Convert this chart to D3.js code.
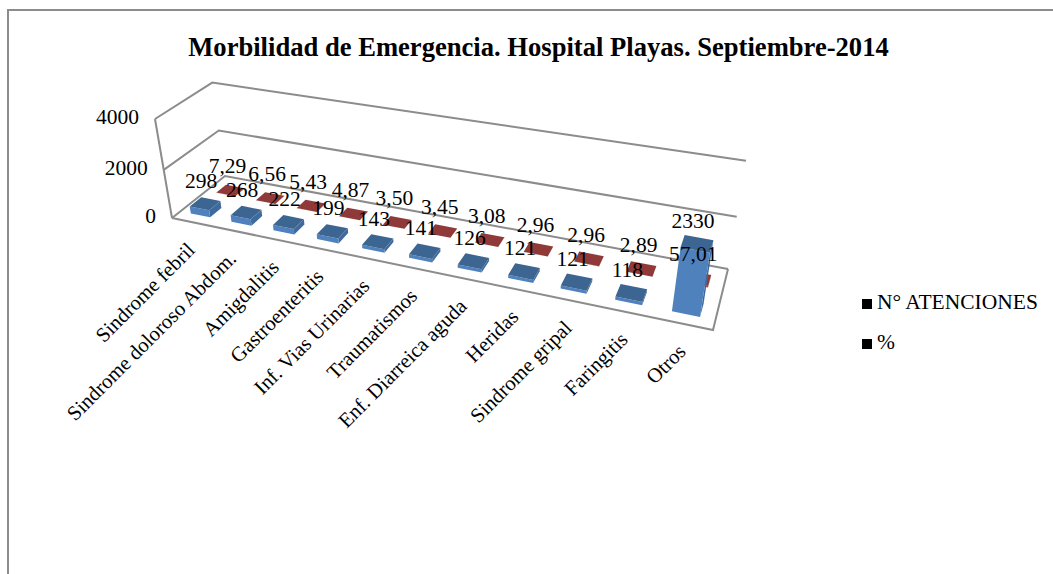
<!DOCTYPE html>
<html><head><meta charset="utf-8">
<script src="https://cdn.jsdelivr.net/npm/d3@7/dist/d3.min.js"></script>
<style>
html,body{margin:0;padding:0;background:#fff}
svg{display:block}
text{font-family:"Liberation Serif","Times New Roman",serif;fill:#000}
</style></head><body><svg id="chart" width="1053" height="574"></svg>
<script>
const categories = ["Sindrome febril","Sindrome doloroso Abdom.","Amigdalitis","Gastroenteritis","Inf. Vias Urinarias","Traumatismos","Enf. Diarreica aguda","Heridas","Sindrome gripal","Faringitis","Otros"];
const atenciones = [298,268,222,199,143,141,126,121,121,118,2330];
const porcentaje = [7.29,6.56,5.43,4.87,3.50,3.45,3.08,2.96,2.96,2.89,57.01];
const porcentajeLabels = ["7,29","6,56","5,43","4,87","3,50","3,45","3,08","2,96","2,96","2,89","57,01"];
const yTicks = [0,2000,4000];
const seriesNames = ["N° ATENCIONES","%"];

const svg = d3.select("#chart");

// Chart frame: only its top and left edges fall inside the page.
svg.append("path").attr("d","M8,574V10H1053").attr("fill","none").attr("stroke","#8c8c8c").attr("stroke-width",2);

svg.append("text").attr("x",538.5).attr("y",56).attr("text-anchor","middle")
  .attr("font-size",26.6).attr("font-weight","bold")
  .text("Morbilidad de Emergencia. Hospital Playas. Septiembre-2014");

// Perspective projection of the plot box: u along categories, d into the page, w up the value axis.
const floor = [[172,218],[713,330],[728,269],[225,176]];
function homography(q){
  const [[x0,y0],[x1,y1],[x2,y2],[x3,y3]] = q;
  const dx1=x1-x2, dx2=x3-x2, sx=x0-x1+x2-x3;
  const dy1=y1-y2, dy2=y3-y2, sy=y0-y1+y2-y3;
  const det=dx1*dy2-dx2*dy1;
  const g=(sx*dy2-dx2*sy)/det, h=(dx1*sy-sx*dy1)/det;
  return {a:x1-x0+g*x1,b:x3-x0+h*x3,c:x0,d:y1-y0+g*y1,e:y3-y0+h*y3,f:y0,g,h};
}
const H = homography(floor);
const D11 = H.g+H.h+1;
const iW = -(18*D11+17)/591;
const cW = 155*(1+iW)-172;
const fW = 119*(1+iW)-218;
function project(u,d,w){
  const den = H.g*u+H.h*d+iW*w+1;
  return [(H.a*u+H.b*d+cW*w+H.c)/den,(H.d*u+H.e*d+fW*w+H.f)/den];
}

const uScale = d3.scaleBand().domain(categories).range([0,1]).paddingInner(0.52).paddingOuter(0.26);
const wScale = d3.scaleLinear().domain([0,4000]).range([0,1]);
const line = d3.line();
const grid = "#8c8c8c";

// Back wall gridlines, side wall and floor outline.
const box = svg.append("g").attr("fill","none").attr("stroke",grid).attr("stroke-width",2);
yTicks.forEach(t=>{
  const w=wScale(t);
  box.append("path").attr("d",line([project(0,0,w),project(0,1,w),project(1,1,w)]));
});
box.append("path").attr("d",line([project(0,0,0),project(1,0,0),project(1,1,0)]));
box.append("path").attr("d",line([project(0,0,0),project(0,0,1)]));

// Value axis labels.
svg.append("g").selectAll("text").data(yTicks).join("text")
  .attr("font-size",21.5).attr("text-anchor","end")
  .attr("x",t=>project(0,0,wScale(t))[0]-16)
  .attr("y",t=>project(0,0,wScale(t))[1]+5)
  .text(t=>t);

// One 3D box: top, front and right faces.
function drawBar(g,cat,value,d0,d1,colors){
  const u0=uScale(cat), u1=uScale(cat)+uScale.bandwidth(), w=wScale(value);
  const face=(pts,fill)=>g.append("path").attr("d",line(pts)+"Z").attr("fill",fill);
  face([project(u1,d0,0),project(u1,d1,0),project(u1,d1,w),project(u1,d0,w)],colors.side);
  face([project(u0,d0,0),project(u1,d0,0),project(u1,d0,w),project(u0,d0,w)],colors.front);
  face([project(u0,d0,w),project(u1,d0,w),project(u1,d1,w),project(u0,d1,w)],colors.top);
}
const blue={front:"#4f81bd",side:"#3f6a9e",top:"#3c6591"};
const red={front:"#a8423f",side:"#8a3634",top:"#8f3a39"};
const redBand=[0.63,0.82], blueBand=[0.15,0.36];

const barsRed=svg.append("g"), barsBlue=svg.append("g");
categories.forEach((c,i)=>{
  drawBar(barsRed,c,porcentaje[i],redBand[0],redBand[1],red);
  drawBar(barsBlue,c,atenciones[i],blueBand[0],blueBand[1],blue);
});

// Value labels sit above each bar's top face.
const centre=(c,v,band)=>project(uScale(c)+uScale.bandwidth()/2,(band[0]+band[1])/2,wScale(v));
const labels=svg.append("g").attr("font-size",21.5).attr("text-anchor","middle");
categories.forEach((c,i)=>{
  const pb=centre(c,atenciones[i],blueBand), pr=centre(c,porcentaje[i],redBand);
  labels.append("text").attr("x",pr[0]-3).attr("y",pr[1]-17).text(porcentajeLabels[i]);
  labels.append("text").attr("x",pb[0]-4).attr("y",pb[1]-16).text(atenciones[i]);
});

// Rotated category labels, end-anchored under the front edge.
svg.append("g").selectAll("text").data(categories).join("text")
  .attr("font-size",20.7).attr("text-anchor","end")
  .attr("transform",c=>{
    const p=project(uScale(c)+uScale.bandwidth()/2,0,0);
    return `translate(${p[0]+4},${p[1]+29}) rotate(-45)`;
  })
  .text(c=>c);

// Legend with plain black keys.
const legend=svg.append("g").selectAll("g").data(seriesNames).join("g")
  .attr("transform",(d,i)=>`translate(862,${299+i*40})`);
legend.append("rect").attr("width",10).attr("height",10).attr("fill","#000");
legend.append("text").attr("x",15).attr("y",10).attr("font-size",21.5).text(d=>d);
</script></body></html>
